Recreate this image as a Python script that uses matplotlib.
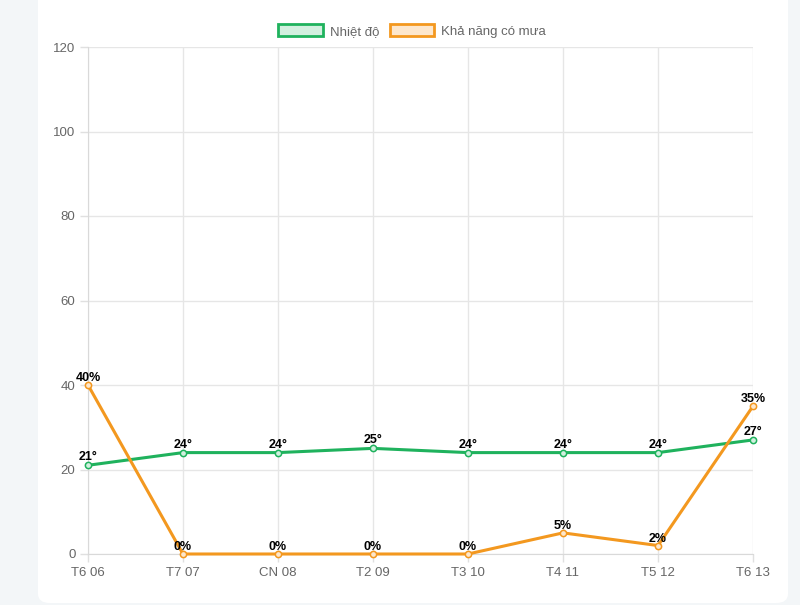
import matplotlib.pyplot as plt
from matplotlib.patches import FancyBboxPatch, Patch

days = ['T6 06', 'T7 07', 'CN 08', 'T2 09', 'T3 10', 'T4 11', 'T5 12', 'T6 13']
temps = [21, 24, 24, 25, 24, 24, 24, 27]
rain = [40, 0, 0, 0, 0, 5, 2, 35]

green = '#1fb25d'
orange = '#f3981f'

plt.rcParams['font.family'] = ['Liberation Sans', 'DejaVu Sans']

fig = plt.figure(figsize=(8, 6.05), dpi=100, facecolor='#f3f6f8')
# white card behind the chart
card = FancyBboxPatch((38 / 800, 2 / 605), 750 / 800, 1.1,
                      boxstyle='round,pad=0,rounding_size=0.015', transform=fig.transFigure,
                      facecolor='white', edgecolor='none', zorder=-5)
fig.patches.append(card)

ax = fig.add_axes([88 / 800, 1 - 554 / 605, 665 / 800, (554 - 47) / 605])
ax.set_facecolor('none')
x = list(range(len(days)))

ax.plot(x, temps, color=green, lw=2.2, marker='o', ms=4.5, mfc='#d2f0df', mec=green, mew=1.1,
        clip_on=False, zorder=3)
ax.plot(x, rain, color=orange, lw=2.2, marker='o', ms=4.5, mfc='#fde7cc', mec=orange, mew=1.1,
        clip_on=False, zorder=3)

for i, v in enumerate(temps):
    ax.annotate(f'{v}°', (i, v), xytext=(0, 1.5), textcoords='offset points', ha='center',
                va='bottom', fontsize=9, fontweight='bold', color='black', zorder=5)
for i, v in enumerate(rain):
    ax.annotate(f'{v}%', (i, v), xytext=(0, 0.5), textcoords='offset points', ha='center',
                va='bottom', fontsize=9, fontweight='bold', color='black', zorder=5)

ax.set_xlim(0, len(days) - 1)
ax.set_ylim(0, 120)
ax.set_yticks(range(0, 121, 20))
ax.set_xticks(x)
ax.set_xticklabels(days)
ax.grid(True, color='#e6e6e6', lw=1)
ax.set_axisbelow(True)
for s in ['top', 'right']:
    ax.spines[s].set_visible(False)
for s in ['left', 'bottom']:
    ax.spines[s].set_color('#d9d9d9')
ax.tick_params(colors='#e0e0e0', labelcolor='#666666', labelsize=9.5, length=6, width=1)
ax.tick_params(axis='x', pad=3)
ax.tick_params(axis='y', pad=3)

handles = [Patch(facecolor='#d2f0df', edgecolor=green, lw=2, label='Nhiệt độ'),
           Patch(facecolor='#fde7cc', edgecolor=orange, lw=2, label='Khả năng có mưa')]
fig.legend(handles=handles, loc='center', bbox_to_anchor=(412 / 800, 1 - 31 / 605), ncol=2,
           frameon=False, fontsize=9.5, handlelength=3.4, handleheight=1.0, handletextpad=0.5,
           columnspacing=0.8, labelcolor='#666666')

fig.savefig('out.png', dpi=100, facecolor=fig.get_facecolor())
